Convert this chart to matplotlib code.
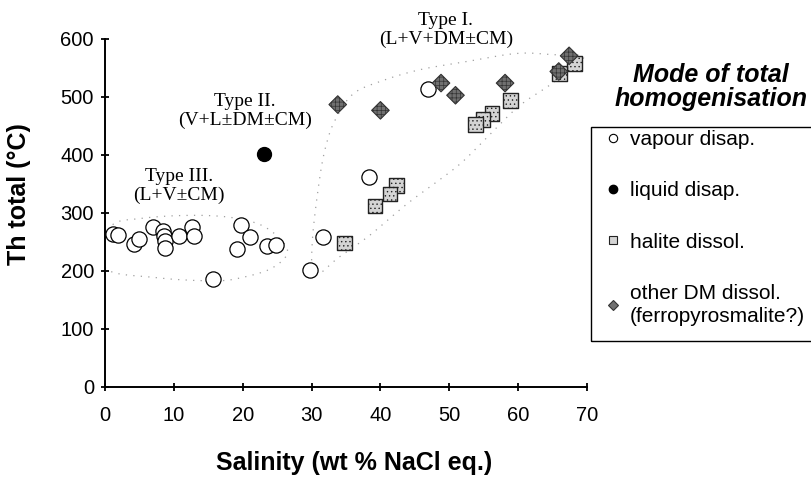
import numpy as np
import matplotlib
matplotlib.use("Agg")
import matplotlib.pyplot as plt
from matplotlib.lines import Line2D
from matplotlib.patches import Rectangle

# Data: salinity (wt % NaCl eq.) vs Th total (°C)
vap_x = [1.1, 1.9, 4.2, 4.9, 7.0, 8.4, 8.5, 8.7, 8.7, 10.8, 12.7, 12.9, 15.7,
         19.1, 19.7, 21.0, 23.5, 24.8, 29.8, 31.6, 38.3, 46.9]
vap_y = [263, 262, 246, 256, 276, 269, 260, 252, 240, 260, 276, 260, 186,
         238, 280, 259, 243, 244, 201, 259, 362, 514]

liq_x = [23.1]
liq_y = [402]

hal_x = [68.2, 66.0, 58.9, 56.2, 54.9, 53.8, 42.3, 41.4, 39.2, 34.8]
hal_y = [558, 541, 494, 472, 461, 453, 347, 333, 312, 248]

dm_x = [33.8, 40.0, 48.8, 50.9, 58.1, 65.9, 67.4]
dm_y = [487, 477, 524, 503, 524, 544, 571]

# dotted outlines of the inclusion fields
field3 = [(0.0, 206), (7, 189), (15.7, 183), (20, 189), (24.4, 206), (26.5, 236),
          (23.5, 274), (19, 291), (13, 296), (5.5, 291), (0.8, 276)]
field12 = [(30.5, 194), (30.1, 250), (31.2, 362), (32.2, 421), (33.5, 462),
           (36, 505), (40, 527), (45.7, 547), (52, 560), (59.7, 575), (65, 573),
           (69.5, 568), (65, 524), (60, 483), (54.8, 422), (51, 379), (44, 317),
           (38.5, 262), (34, 224)]

field_text = [(49.5, 616, "Type I.\n(L+V+DM\u00b1CM)"),
              (20.3, 476, "Type II.\n(V+L\u00b1DM\u00b1CM)"),
              (10.8, 347, "Type III.\n(L+V\u00b1CM)")]


def smooth_closed(pts, n=30):
    # closed Catmull-Rom curve through the outline points
    p = np.array(pts, dtype=float)
    k = len(p)
    out = []
    for i in range(k):
        p0, p1, p2, p3 = p[i - 1], p[i], p[(i + 1) % k], p[(i + 2) % k]
        t = np.linspace(0, 1, n, endpoint=False)[:, None]
        out.append(0.5 * ((2 * p1) + (-p0 + p2) * t
                          + (2 * p0 - 5 * p1 + 4 * p2 - p3) * t ** 2
                          + (-p0 + 3 * p1 - 3 * p2 + p3) * t ** 3))
    out = np.vstack(out)
    return np.vstack([out, out[:1]])


plt.rcParams['font.family'] = ['Liberation Sans', 'DejaVu Sans']
plt.rcParams['hatch.linewidth'] = 0.5

fig = plt.figure(figsize=(8.12, 4.79), dpi=100)
ax = fig.add_axes([105 / 812, 1 - 387 / 479, 482 / 812, 348 / 479])

for f in (field3, field12):
    c = smooth_closed(f)
    ax.plot(c[:, 0], c[:, 1], ls=(0, (1, 5)), color='#a0a0a0', lw=0.9, zorder=1)

ax.scatter(vap_x, vap_y, s=120, facecolors='white', edgecolors='black',
           linewidths=0.9, zorder=3)
ax.scatter(liq_x, liq_y, s=100, c='black', zorder=3)
ax.scatter(hal_x, hal_y, s=110, marker='s', facecolors='#d4d4d4',
           edgecolors='#222222', linewidths=1.0, hatch='....', zorder=4)
ax.scatter(dm_x, dm_y, s=80, marker='D', facecolors='#707070',
           edgecolors='#333333', linewidths=0.8, hatch='++++', zorder=5)

for x, y, t in field_text:
    ax.text(x, y, t, ha='center', va='center', family='Liberation Serif',
            fontsize=14, linespacing=1.1, clip_on=False)

ax.set_xlim(0, 70)
ax.set_ylim(0, 600)
ax.set_xticks(range(0, 71, 10))
ax.set_yticks(range(0, 601, 100))
for s in ('top', 'right'):
    ax.spines[s].set_visible(False)
for s in ('left', 'bottom'):
    ax.spines[s].set_linewidth(1.4)
ax.tick_params(direction='inout', length=6, width=1.3, labelsize=14.5)
ax.tick_params(axis='x', pad=11)
ax.tick_params(axis='y', pad=5)

fig.text(354 / 812, 1 - 463 / 479, "Salinity (wt % NaCl eq.)", ha='center',
         va='center', fontsize=18, fontweight='bold')
fig.text(19 / 812, 1 - 194 / 479, "Th total (\u00b0C)", ha='center', va='center',
         rotation=90, fontsize=18, fontweight='bold')

fig.text(711 / 812, 1 - 87 / 479, "Mode of total\nhomogenisation", ha='center',
         va='center', fontsize=18, fontweight='bold', style='italic',
         linespacing=1.05)

# legend frame (runs off the right edge of the figure)
fig.patches.append(Rectangle((591 / 812, 1 - 341 / 479), 240 / 812, 214 / 479,
                             transform=fig.transFigure, fill=False,
                             edgecolor='black', lw=1.0))

handles = [
    Line2D([], [], ls='', marker='o', ms=6, mfc='white', mec='black', mew=0.8),
    Line2D([], [], ls='', marker='o', ms=6, mfc='black', mec='black'),
    Line2D([], [], ls='', marker='s', ms=6, mfc='#d4d4d4', mec='#222222', mew=0.8),
    Line2D([], [], ls='', marker='D', ms=5, mfc='#707070', mec='#333333', mew=0.8),
]
labels = ["vapour disap.", "liquid disap.", "halite dissol.",
          "other DM dissol.\n(ferropyrosmalite?)"]
leg = fig.legend(handles, labels, loc='upper left',
                 bbox_to_anchor=(603 / 812, 1 - 130 / 479), borderaxespad=0,
                 frameon=False, fontsize=15, labelspacing=1.55,
                 handletextpad=0.3, handlelength=1.0, borderpad=0)
leg.get_texts()[3].set_linespacing(1.3)

fig.savefig("out.png", dpi=100)
